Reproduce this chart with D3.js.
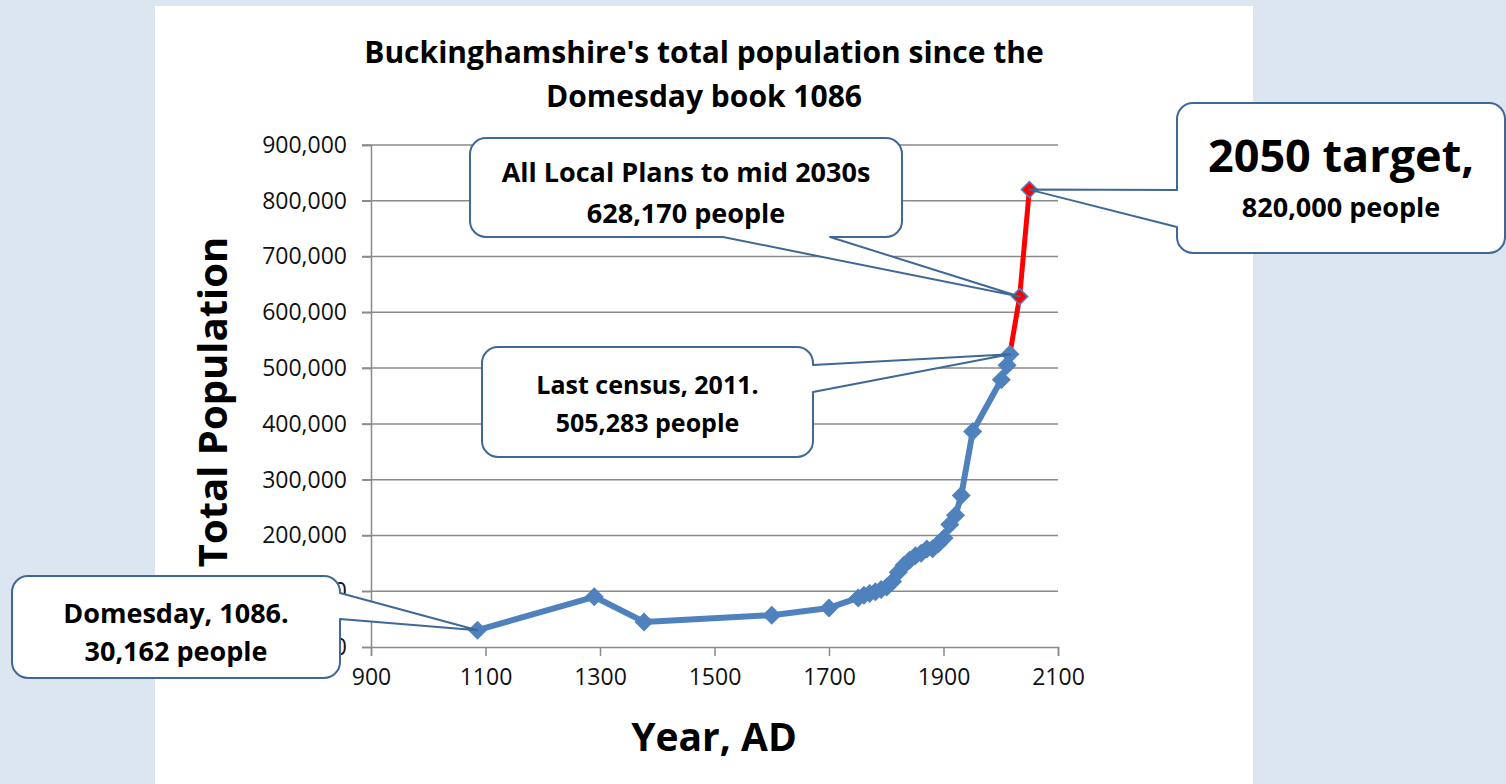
<!DOCTYPE html>
<html>
<head>
<meta charset="utf-8">
<script src="https://cdn.jsdelivr.net/npm/d3@7"></script>
<style>
  html, body { margin: 0; padding: 0; background: #dce6f1; }
  svg { display: block; font-family: 'Open Sans', 'Noto Sans', sans-serif; }
</style>
</head>
<body>
<script>
// Census / estimate points (blue series)
const years = [1086, 1290, 1377, 1600, 1700, 1751, 1761, 1771, 1781, 1791,
  1801, 1811, 1821, 1831, 1841, 1851, 1861, 1871, 1881, 1891,
  1901, 1911, 1921, 1931, 1951, 2001, 2011, 2016];
const population = [30162, 90000, 45000, 57000, 70000, 88000, 93000, 96000, 99000, 103000,
  107444, 117650, 134068, 146529, 155983, 163723, 167993, 175879, 176323, 185284,
  195534, 219551, 236171, 271586, 386291, 479026, 505283, 525000];

// Plans and target (red series)
const planYears = [2016, 2033, 2050];
const planPopulation = [525000, 628170, 820000];

const xTicks = [900, 1100, 1300, 1500, 1700, 1900, 2100];
const yTicks = [0, 100000, 200000, 300000, 400000, 500000, 600000, 700000, 800000, 900000];

const titleLines = ["Buckinghamshire's total population since the", 'Domesday book 1086'];
const xTitle = 'Year, AD';
const yTitle = 'Total Population';

document.addEventListener('DOMContentLoaded', () => {
  drawChart();
});

const drawChart = () => {
  const width = 1506, height = 784;
  const blue = '#4f81bd';
  const calloutStroke = '#3f6897';

  const svg = d3.select('body').append('svg')
    .attr('width', width)
    .attr('height', height);

  // white chart panel
  svg.append('rect')
    .attr('x', 155).attr('y', 6)
    .attr('width', 1098).attr('height', 778)
    .attr('fill', '#fff');

  const x = d3.scaleLinear().domain([900, 2100]).range([371, 1058]);
  const y = d3.scaleLinear().domain([0, 900000]).range([647, 145]);

  // Title -------------------------
  svg.append('g')
    .selectAll('text')
    .data(titleLines)
    .enter()
    .append('text')
    .attr('x', 704)
    .attr('y', (d, i) => 63 + i * 44)
    .attr('text-anchor', 'middle')
    .attr('font-size', 30)
    .attr('font-weight', 'bold')
    .text(d => d);

  // Gridlines ---------------------
  svg.append('g')
    .selectAll('line')
    .data(yTicks.filter(d => d > 0))
    .enter()
    .append('line')
    .attr('x1', 362).attr('x2', x(2100))
    .attr('y1', d => y(d)).attr('y2', d => y(d))
    .attr('stroke', '#8a8a8a')
    .attr('stroke-width', 1.5);

  // Y-Axis ------------------------
  const yAxis = svg.append('g')
    .attr('transform', `translate(${x(900)},0)`)
    .call(d3.axisLeft(y).tickValues(yTicks).tickSize(9).tickPadding(15)
      .tickFormat(d3.format(',')));
  yAxis.select('.domain').attr('stroke', '#8a8a8a').attr('stroke-width', 1.5);
  yAxis.selectAll('.tick line').attr('stroke', '#8a8a8a').attr('stroke-width', 1.5);
  yAxis.selectAll('.tick text')
    .attr('font-size', 23)
    .attr('font-family', "'Open Sans', sans-serif")
    .attr('fill', '#111');

  // X-Axis ------------------------
  const xAxis = svg.append('g')
    .attr('transform', `translate(0,${y(0)})`)
    .call(d3.axisBottom(x).tickValues(xTicks).tickSize(9).tickPadding(13)
      .tickFormat(d3.format('d')));
  xAxis.select('.domain').attr('stroke', '#8a8a8a').attr('stroke-width', 1.5);
  xAxis.selectAll('.tick line').attr('stroke', '#8a8a8a').attr('stroke-width', 1.5);
  xAxis.selectAll('.tick text')
    .attr('font-size', 23)
    .attr('font-family', "'Open Sans', sans-serif")
    .attr('fill', '#111');

  // Axis titles
  svg.append('text')
    .attr('x', 714).attr('y', 751)
    .attr('text-anchor', 'middle')
    .attr('font-size', 39)
    .attr('font-weight', 'bold')
    .text(xTitle);

  svg.append('text')
    .attr('transform', 'translate(227,402) rotate(-90)')
    .attr('text-anchor', 'middle')
    .attr('font-size', 40)
    .attr('font-weight', 'bold')
    .text(yTitle);

  // Series ------------------------
  const line = d3.line()
    .x(d => x(d[0]))
    .y(d => y(d[1]));

  const diamond = r => `M0,${-r}L${r},0L0,${r}L${-r},0Z`;

  const planData = planYears.map((d, i) => [d, planPopulation[i]]);
  const popData = years.map((d, i) => [d, population[i]]);

  svg.append('path')
    .datum(planData)
    .attr('d', line)
    .attr('fill', 'none')
    .attr('stroke', '#ff0000')
    .attr('stroke-width', 5);

  svg.append('path')
    .datum(popData)
    .attr('d', line)
    .attr('fill', 'none')
    .attr('stroke', blue)
    .attr('stroke-width', 6)
    .attr('stroke-linejoin', 'round');

  svg.append('g')
    .selectAll('path')
    .data(popData)
    .enter()
    .append('path')
    .attr('transform', d => `translate(${x(d[0])},${y(d[1])})`)
    .attr('d', diamond(9.5))
    .attr('fill', blue);

  svg.append('g')
    .selectAll('path')
    .data(planData.slice(1))
    .enter()
    .append('path')
    .attr('transform', d => `translate(${x(d[0])},${y(d[1])})`)
    .attr('d', diamond(8))
    .attr('fill', '#ff0000')
    .attr('stroke', blue)
    .attr('stroke-width', 1.5);

  // Callouts ----------------------
  const callouts = [
    { box: [12, 576, 328, 102], side: 'right', base: [593, 619], tip: popData[0],
      lines: [['Domesday, 1086.', 27], ['30,162 people', 27]], ys: [623, 661] },
    { box: [470, 138, 432, 99], side: 'bottom', base: [723, 830], tip: planData[1],
      lines: [['All Local Plans to mid 2030s', 27], ['628,170 people', 27]], ys: [182, 223] },
    { box: [482, 347, 331, 110], side: 'right', base: [365, 392], tip: popData[popData.length - 1],
      lines: [['Last census, 2011.', 25], ['505,283 people', 25]], ys: [394, 432] },
    { box: [1177, 103, 328, 150], side: 'left', base: [190, 227], tip: planData[2],
      lines: [['2050 target,', 45], ['820,000 people', 27]], ys: [172, 217] }
  ];

  const calloutPath = c => {
    const [bx, by, bw, bh] = c.box;
    const r = 16;
    const tx = x(c.tip[0]), ty = y(c.tip[1]);
    const [a0, a1] = c.base;
    const p = d3.path();
    p.moveTo(bx + r, by);
    if (c.side === 'top') { p.lineTo(a0, by); p.lineTo(tx, ty); p.lineTo(a1, by); }
    p.lineTo(bx + bw - r, by);
    p.arcTo(bx + bw, by, bx + bw, by + r, r);
    if (c.side === 'right') { p.lineTo(bx + bw, a0); p.lineTo(tx, ty); p.lineTo(bx + bw, a1); }
    p.lineTo(bx + bw, by + bh - r);
    p.arcTo(bx + bw, by + bh, bx + bw - r, by + bh, r);
    if (c.side === 'bottom') { p.lineTo(a1, by + bh); p.lineTo(tx, ty); p.lineTo(a0, by + bh); }
    p.lineTo(bx + r, by + bh);
    p.arcTo(bx, by + bh, bx, by + bh - r, r);
    if (c.side === 'left') { p.lineTo(bx, a1); p.lineTo(tx, ty); p.lineTo(bx, a0); }
    p.lineTo(bx, by + r);
    p.arcTo(bx, by, bx + r, by, r);
    p.closePath();
    return p.toString();
  };

  const cg = svg.append('g')
    .selectAll('g')
    .data(callouts)
    .enter()
    .append('g');

  cg.append('path')
    .attr('d', calloutPath)
    .attr('fill', '#fff')
    .attr('stroke', calloutStroke)
    .attr('stroke-width', 2)
    .attr('stroke-linejoin', 'round');

  cg.each(function(c) {
    const g = d3.select(this);
    c.lines.forEach((l, i) => {
      g.append('text')
        .attr('x', c.box[0] + c.box[2] / 2)
        .attr('y', c.ys[i])
        .attr('text-anchor', 'middle')
        .attr('font-size', l[1])
        .attr('font-weight', 'bold')
        .text(l[0]);
    });
  });
}
</script>
</body>
</html>
